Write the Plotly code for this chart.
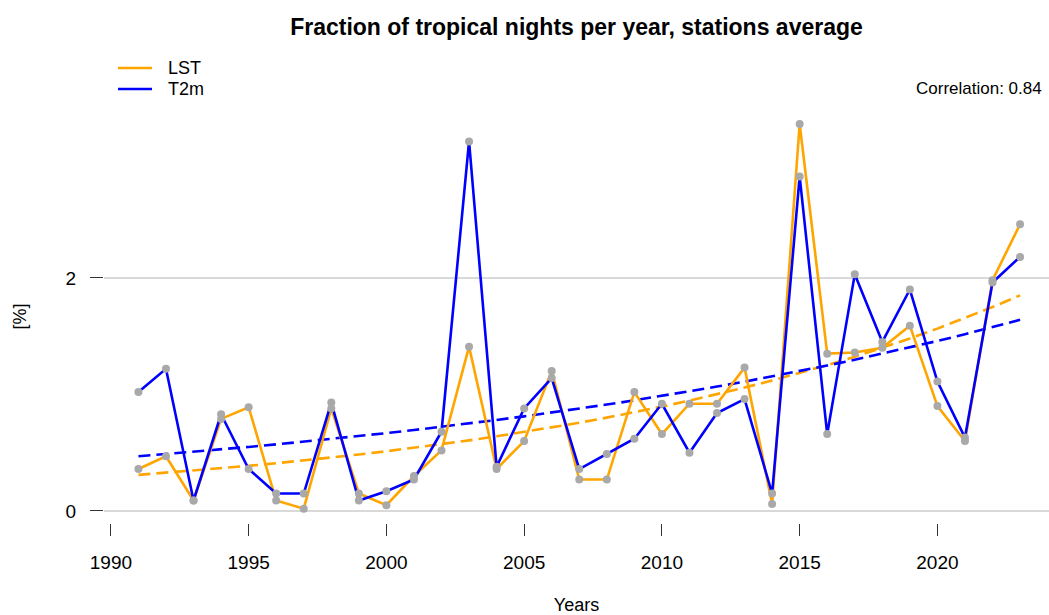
import numpy as np
import plotly.graph_objects as go

years = list(range(1991, 2024))
lst = [0.36, 0.47, 0.09, 0.79, 0.89, 0.09, 0.02, 0.88, 0.15, 0.05, 0.30, 0.52,
       1.41, 0.36, 0.60, 1.20, 0.27, 0.27, 1.02, 0.66, 0.92, 0.92, 1.23, 0.06,
       3.32, 1.35, 1.36, 1.40, 1.59, 0.90, 0.60, 1.98, 2.46]
t2m = [1.02, 1.22, 0.09, 0.83, 0.36, 0.15, 0.15, 0.93, 0.09, 0.17, 0.27, 0.68,
       3.17, 0.38, 0.88, 1.14, 0.36, 0.49, 0.62, 0.92, 0.50, 0.84, 0.96, 0.15,
       2.87, 0.66, 2.03, 1.45, 1.90, 1.11, 0.63, 1.96, 2.18]
# exponential trend endpoints (first year, last year)
lst_trend_ends = [0.31, 1.85]
t2m_trend_ends = [0.47, 1.64]
correlation = 0.84
x_ticks = [1990, 1995, 2000, 2005, 2010, 2015, 2020]
series_names = ["LST", "T2m"]

yr = np.array(years, dtype=float)
def exp_trend(ends):
    a = ends[0]
    b = np.log(ends[1] / ends[0]) / (yr[-1] - yr[0])
    return a * np.exp(b * (yr - yr[0]))

ORANGE = "#FFA500"
BLUE = "#0000FF"
GRAY = "#A9A9A9"
FONT = "Liberation Sans, Arial, sans-serif"

W, H = 1049, 615
ML, MR, MT, MB = 104, 0, 110, 92
PW, PH = W - ML - MR, H - MT - MB
def px(x):
    return (x - ML) / PW
def py(y):
    return (H - MB - y) / PH

fig = go.Figure()
fig.add_trace(go.Scatter(x=years, y=exp_trend(lst_trend_ends), mode="lines",
                         line=dict(color=ORANGE, width=2.6, dash="12px,6px"),
                         showlegend=False, hoverinfo="skip"))
fig.add_trace(go.Scatter(x=years, y=exp_trend(t2m_trend_ends), mode="lines",
                         line=dict(color=BLUE, width=2.6, dash="12px,6px"),
                         showlegend=False, hoverinfo="skip"))
fig.add_trace(go.Scatter(x=years, y=lst, mode="lines", name=series_names[0],
                         line=dict(color=ORANGE, width=2.6), showlegend=False))
fig.add_trace(go.Scatter(x=years, y=t2m, mode="lines", name=series_names[1],
                         line=dict(color=BLUE, width=2.6), showlegend=False))
fig.add_trace(go.Scatter(x=years, y=lst, mode="markers", showlegend=False,
                         marker=dict(color=GRAY, size=8)))
fig.add_trace(go.Scatter(x=years, y=t2m, mode="markers", showlegend=False,
                         marker=dict(color=GRAY, size=8)))

# legend drawn manually (lines + labels)
shapes = []
annotations = []
for name, col, ly in [(series_names[0], ORANGE, 68), (series_names[1], BLUE, 89)]:
    shapes.append(dict(type="line", xref="paper", yref="paper",
                       x0=px(118), x1=px(152), y0=py(ly), y1=py(ly),
                       line=dict(color=col, width=2.6)))
    annotations.append(dict(text=name, x=px(166), xref="paper", xanchor="left",
                            y=py(ly), yref="paper", yanchor="middle",
                            showarrow=False, font=dict(size=18, family=FONT)))
annotations.append(dict(text=f"Correlation: {correlation:.2f}", x=1, xref="paper",
                        xanchor="right", xshift=-5, y=py(89), yref="paper",
                        yanchor="middle", showarrow=False,
                        font=dict(size=17, family=FONT)))

fig.update_layout(
    width=W, height=H,
    margin=dict(l=ML, r=MR, t=MT, b=MB),
    paper_bgcolor="white", plot_bgcolor="white",
    font=dict(family=FONT, size=19, color="#000000"),
    showlegend=False,
    title=dict(text="<b>Fraction of tropical nights per year, stations average</b>",
               x=0.5, xref="paper", xanchor="center",
               y=1 - 27 / H, yref="container", yanchor="middle",
               font=dict(size=23, family=FONT)),
    xaxis=dict(range=[1989.75, 2024.05], tickvals=x_ticks, showgrid=False,
               zeroline=False, showline=False, ticks="outside", ticklen=12,
               tickwidth=1.2, tickcolor="#333333",
               title=dict(text="Years", standoff=28, font=dict(size=18)),
               tickfont=dict(size=19), ticklabelstandoff=10),
    yaxis=dict(range=[-0.103, 3.44], tickvals=[0, 2], showgrid=True,
               gridcolor="#D9D9D9", gridwidth=1.5, zeroline=False,
               showline=False, ticks="outside", ticklen=13, tickwidth=1.2,
               tickcolor="#333333",
               title=dict(text="[%]", standoff=34, font=dict(size=18)),
               tickfont=dict(size=19), ticklabelstandoff=10),
    shapes=shapes,
    annotations=annotations,
)

fig.write_html("out.html", config={"displayModeBar": False},
               post_script="document.body.style.margin='0';")
